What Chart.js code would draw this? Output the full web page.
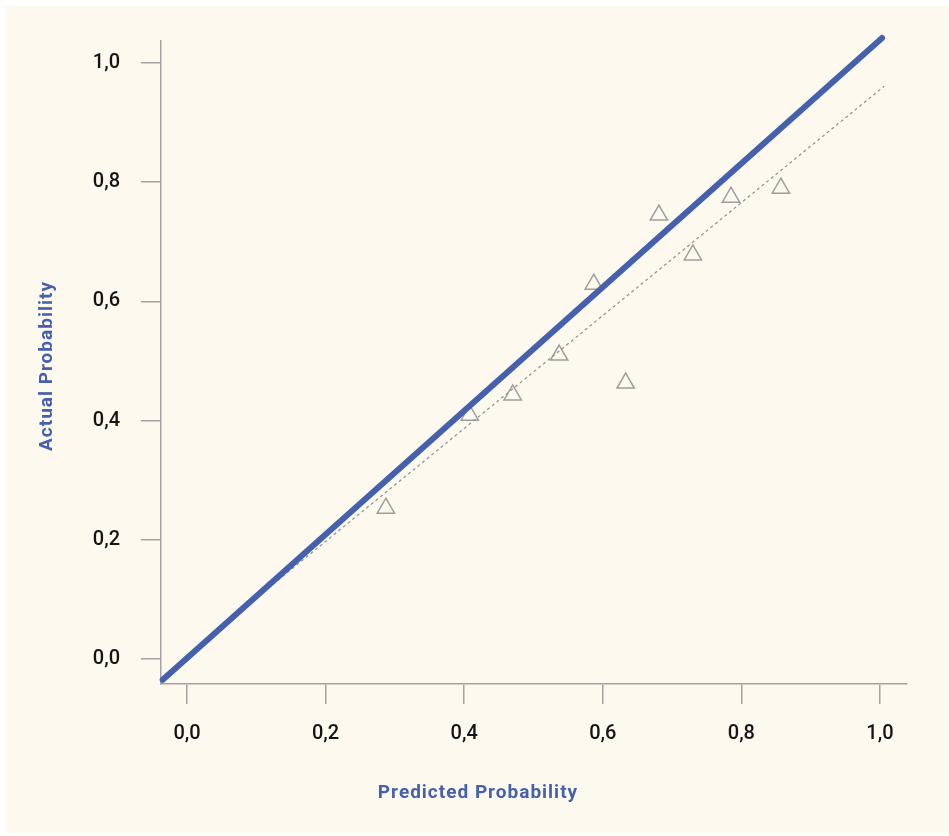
<!DOCTYPE html>
<html>
<head>
<meta charset="utf-8">
<script src="https://cdn.jsdelivr.net/npm/chart.js@4"></script>
<style>
  html, body { margin: 0; padding: 0; background: #ffffff; }
  #wrap { position: absolute; left: 5px; top: 6px; width: 944px; height: 827px; background: #fdf9ee; }
  canvas { display: block; }
</style>
</head>
<body>
<div id="wrap"><canvas id="calib" width="944" height="827"></canvas></div>
<script>
// observed calibration points (predicted, actual)
const predicted = [0.287, 0.408, 0.470, 0.537, 0.587, 0.633, 0.681, 0.730, 0.785, 0.857];
const actual    = [0.253, 0.409, 0.443, 0.510, 0.629, 0.463, 0.745, 0.678, 0.775, 0.790];

// fitted line end points (solid blue) and reference line end points (dashed)
const fitX = [-0.035, 1.003];
const fitY = [-0.035, 1.042];
const refX = [0.091, 1.006];
const refY = [0.094, 0.961];

const tickValues = [0, 0.2, 0.4, 0.6, 0.8, 1.0];
const tickLabels = ['0,0', '0,2', '0,4', '0,6', '0,8', '1,0'];

const xTitle = 'Predicted Probability';
const yTitle = 'Actual Probability';

const BLUE = '#4561ad';
const GREY = '#a3a3a3';

Chart.defaults.font.family = 'Roboto';

const toPoints = (xs, ys) => xs.map((x, i) => ({ x, y: ys[i] }));

function fixedTicks(scale) {
  scale.ticks = tickValues.map(v => ({ value: v }));
}
function tickLabel(value) {
  const i = tickValues.indexOf(value);
  return i >= 0 ? tickLabels[i] : '';
}

// axis titles are placed on the page rather than on the axes
const axisTitles = {
  id: 'axisTitles',
  afterDraw(chart) {
    const c = chart.ctx;
    c.save();
    c.fillStyle = BLUE;
    c.font = 'bold 19px Roboto';
    c.letterSpacing = '1px';
    c.textAlign = 'center';
    c.textBaseline = 'middle';
    c.fillText(xTitle, 473, 787);
    c.translate(42, 360);
    c.rotate(-Math.PI / 2);
    c.fillText(yTitle, 0, 0);
    c.restore();
  }
};

const axisStyle = {
  border: { display: true, color: GREY, width: 1.5 },
  grid: { display: true, drawOnChartArea: false, drawTicks: true, tickLength: 20, color: GREY, lineWidth: 1.5 },
  ticks: { color: '#141414', font: { size: 20, weight: 500 }, callback: tickLabel }
};

new Chart(document.getElementById('calib'), {
  type: 'scatter',
  data: {
    datasets: [
      {
        type: 'line',
        data: toPoints(fitX, fitY),
        borderColor: BLUE,
        borderWidth: 6,
        borderCapStyle: 'round',
        pointRadius: 0,
        clip: false,
        fill: false
      },
      {
        type: 'line',
        data: toPoints(refX, refY),
        borderColor: '#8f8f8f',
        borderWidth: 1.2,
        borderDash: [3, 3],
        pointRadius: 0,
        fill: false
      },
      {
        data: toPoints(predicted, actual),
        pointStyle: 'triangle',
        pointRadius: 10,
        pointHoverRadius: 10,
        borderColor: '#9e9e9e',
        borderWidth: 1.5,
        backgroundColor: 'rgba(0,0,0,0)'
      }
    ]
  },
  options: {
    responsive: false,
    animation: false,
    layout: { padding: { left: 0, right: 42, top: 35, bottom: 0 } },
    plugins: { legend: { display: false }, tooltip: { enabled: false } },
    scales: {
      x: {
        type: 'linear',
        min: -0.0375,
        max: 1.039,
        afterBuildTicks: fixedTicks,
        afterFit(scale) { scale.height = 149; },
        ...axisStyle,
        ticks: { ...axisStyle.ticks, padding: 18, maxRotation: 0 }
      },
      y: {
        type: 'linear',
        min: -0.042,
        max: 1.037,
        afterBuildTicks: fixedTicks,
        afterFit(scale) { scale.width = 156; },
        ...axisStyle,
        ticks: { ...axisStyle.ticks, padding: 21 }
      }
    }
  },
  plugins: [axisTitles]
});
</script>
</body>
</html>
